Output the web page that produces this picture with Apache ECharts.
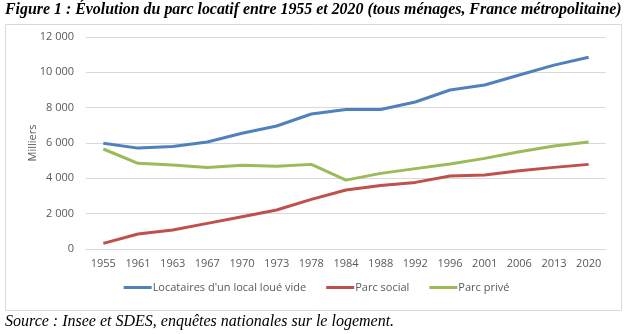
<!DOCTYPE html>
<html><head><meta charset="utf-8">
<script src="https://cdn.jsdelivr.net/npm/echarts@6/dist/echarts.min.js"></script>
<style>html,body{margin:0;padding:0;background:#fff;}#c{width:633px;height:334px;}</style>
</head><body><div id="c"></div>
<script>
const years = ['1955','1961','1963','1967','1970','1973','1978','1984','1988','1992','1996','2001','2006','2013','2020'];
const locataires = [5990,5710,5800,6060,6550,6960,7640,7900,7900,8320,9000,9280,9850,10410,10850];
const parcSocial = [320,850,1080,1450,1830,2210,2810,3340,3600,3770,4130,4190,4430,4620,4790];
const parcPrive = [5660,4850,4750,4620,4740,4680,4790,3900,4280,4550,4810,5130,5510,5830,6060];
const seriesNames = ['Locataires d\'un local loué vide','Parc social','Parc privé'];
const colors = ['#4F81BD','#C0504D','#9BBB59'];

const chart = echarts.init(document.getElementById('c'));
const fmt = v => String(v).replace(/\B(?=(\d{3})+(?!\d))/g, ' ');
const mk = (name, data, color) => ({
  name, type:'line', data, symbol:'none', smooth:false,
  lineStyle:{color, width:3}, itemStyle:{color}
});
chart.setOption({
  animation:false,
  graphic:[
    {type:'text', left:5, top:2, style:{text:'Figure 1 : Évolution du parc locatif entre 1955 et 2020 (tous ménages, France métropolitaine)', font:'italic bold 15.9px "Liberation Serif"', fill:'#000'}},
    {type:'rect', shape:{x:5.5, y:24.5, width:616, height:286}, style:{fill:'none', stroke:'#d9d9d9', lineWidth:1}},
    {type:'text', left:5, top:314, style:{text:'Source : Insee et SDES, enquêtes nationales sur le logement.', font:'italic 16px "Liberation Serif"', fill:'#000'}}
  ],
  grid:{left:86, right:27, top:37, bottom:85},
  legend:{
    data:seriesNames, bottom:36, left:'center', icon:'rect', itemWidth:28, itemHeight:3, itemGap:20,
    textStyle:{color:'#595959', fontSize:11, fontFamily:'"Open Sans"', padding:[0,0,0,-4]}
  },
  xAxis:{
    type:'category', data:years, boundaryGap:true,
    axisLine:{show:true, lineStyle:{color:'#d9d9d9'}}, axisTick:{show:false},
    axisLabel:{color:'#595959', fontSize:11, fontFamily:'"Open Sans"', margin:9, interval:0}
  },
  yAxis:{
    type:'value', min:0, max:12000, interval:2000,
    name:'Milliers', nameLocation:'middle', nameGap:48, nameRotate:90, nameMoveOverlap:false,
    nameTextStyle:{color:'#595959', fontSize:11, fontFamily:'"Open Sans"'},
    axisLine:{show:false}, axisTick:{show:false},
    splitLine:{lineStyle:{color:'#d9d9d9'}},
    axisLabel:{color:'#595959', fontSize:11, fontFamily:'"Open Sans"', margin:12, formatter:fmt}
  },
  series:[mk(seriesNames[0], locataires, colors[0]), mk(seriesNames[1], parcSocial, colors[1]), mk(seriesNames[2], parcPrive, colors[2])]
});
</script></body></html>
